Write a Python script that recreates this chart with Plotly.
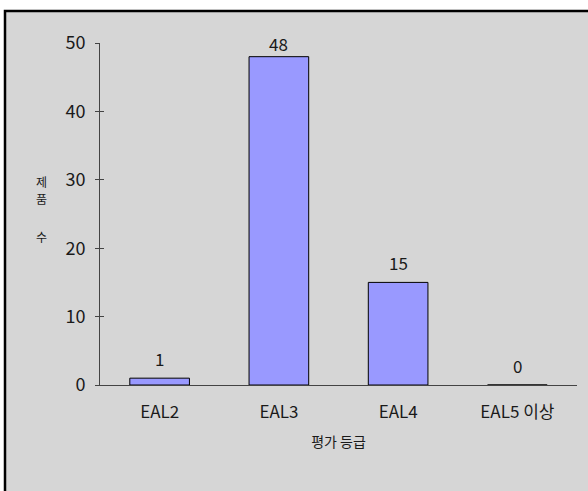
import plotly.graph_objects as go

categories = ["EAL2", "EAL3", "EAL4", "EAL5 이상"]
counts = [1, 48, 15, 0]
y_ticks = [0, 10, 20, 30, 40, 50]
y_title_chars = ["제", "품", "수"]

FONT = "Noto Sans CJK KR"
TXT = "#1a1a1a"

fig = go.Figure()
fig.add_trace(go.Bar(
    x=categories, y=counts,
    marker=dict(color="#9999ff", line=dict(color="#000000", width=1)),
    width=0.5,
    showlegend=False,
))

annotations = []
for c, v in zip(categories, counts):
    annotations.append(dict(
        x=c, y=v, xref="x", yref="y", text=str(v), showarrow=False,
        yshift=13 if v > 45 else 20,
        font=dict(family=FONT, size=17, color=TXT),
    ))

char_y = [181, 198, 236]
annotations += [dict(
    text=ch, xref="paper", yref="paper",
    x=-59/477, xanchor="center", y=(385 - cy) / 342, showarrow=False,
    font=dict(family=FONT, size=12, color=TXT),
) for ch, cy in zip(y_title_chars, char_y)]

fig.update_layout(
    width=588, height=491,
    margin=dict(l=100, r=11, t=43, b=106),
    paper_bgcolor="white",
    plot_bgcolor="rgba(0,0,0,0)",
    font=dict(family=FONT, color=TXT),
    xaxis=dict(
        showline=True, linecolor="#444", linewidth=1,
        ticks="", showgrid=False,
        tickfont=dict(family=FONT, size=17, color=TXT),
        ticklabelstandoff=12,
        title=dict(text="평가 등급", font=dict(family=FONT, size=14, color=TXT), standoff=14),
    ),
    yaxis=dict(
        range=[0, 50], tickvals=y_ticks,
        showline=True, linecolor="#444", linewidth=1,
        ticks="outside", ticklen=4, tickcolor="#444",
        showgrid=False, zeroline=False,
        tickfont=dict(family=FONT, size=18, color=TXT),
        ticklabelstandoff=6,
    ),
    yaxis2=dict(
        range=[0, 50], tickvals=y_ticks, overlaying="y", side="left",
        ticks="inside", ticklen=4, tickcolor="#444", showticklabels=False,
        showgrid=False, zeroline=False, showline=False,
    ),
    shapes=[dict(
        type="rect", xref="paper", yref="paper",
        x0=-95/477, x1=1 + 20/477, y0=-130/342, y1=1 + 32/342,
        fillcolor="#d6d6d6", line=dict(color="#000", width=2.5), layer="below",
    )],
    annotations=annotations,
    bargap=0.5,
)
fig.add_trace(go.Scatter(x=[None], y=[None], yaxis="y2", showlegend=False))

fig.write_html("out.html")
